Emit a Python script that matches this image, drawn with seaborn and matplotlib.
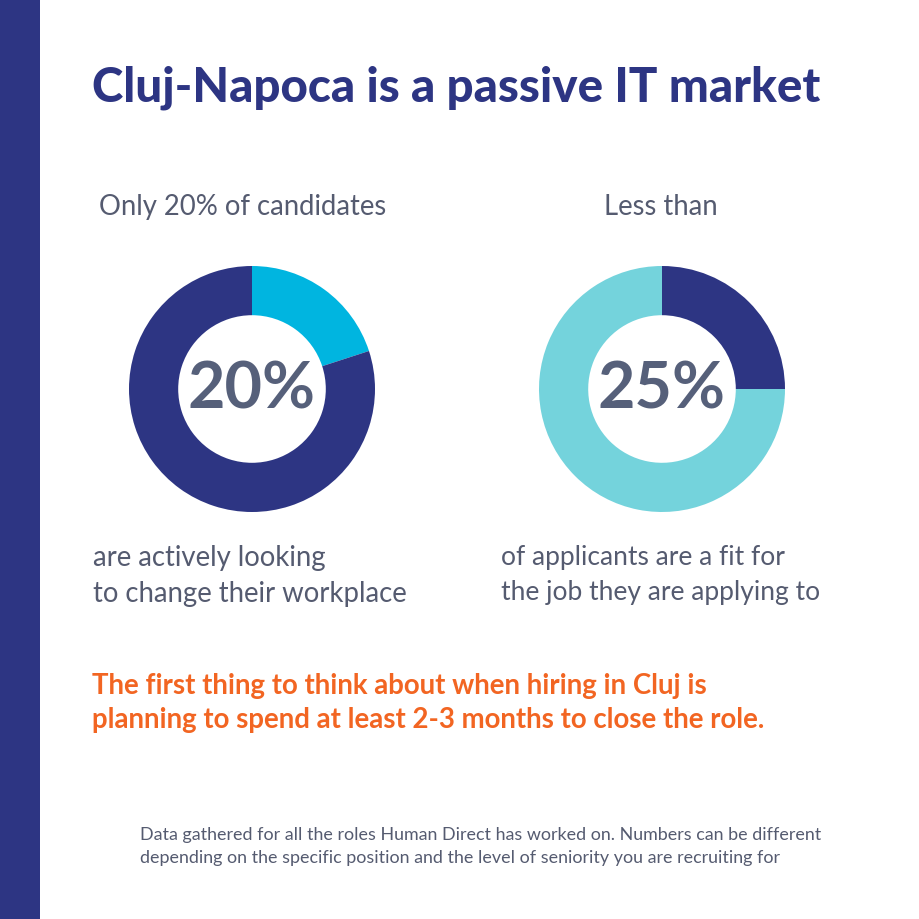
import matplotlib
matplotlib.use("Agg")
import matplotlib.pyplot as plt
import seaborn as sns

# data
title = "Cluj-Napoca is a passive IT market"
left_labels = ["active", "passive"]
left_values = [20, 80]
right_labels = ["fit", "not a fit"]
right_values = [25, 75]
left_top = "Only 20% of candidates"
left_bottom = ["are actively looking", "to change their workplace"]
right_top = "Less than"
right_bottom = ["of applicants are a fit for", "the job they are applying to"]
takeaway = ["The first thing to think about when hiring in Cluj is",
            "planning to spend at least 2-3 months to close the role."]
footnote = ["Data gathered for all the roles Human Direct has worked on. Numbers can be different",
            "depending on the specific position and the level of seniority you are recruiting for"]

NAVY = "#2D3583"
CYAN = "#00B5E0"
TEAL = "#74D3DC"
SLATE = "#56607A"
GREY = "#555B70"
ORANGE = "#F26522"

sns.set_theme(style="white")
plt.rcParams["font.family"] = ["Lato", "DejaVu Sans"]

W = H = 920
fig = plt.figure(figsize=(9.2, 9.2), dpi=100)
fig.patch.set_facecolor("white")

# background axes in pixel coords (y down)
bg = fig.add_axes([0, 0, 1, 1])
bg.set_xlim(0, W)
bg.set_ylim(H, 0)
bg.axis("off")
bg.add_patch(plt.Rectangle((0, 0), 40, H, color=NAVY, lw=0))

bg.text(92, 88, title, fontsize=34.2, fontweight="black", color=NAVY, va="center", ha="left")
bg.text(243, 207, left_top, fontsize=19.8, color=GREY, va="center", ha="center")
bg.text(661, 207, right_top, fontsize=19.8, color=GREY, va="center", ha="center")
for i, line in enumerate(left_bottom):
    bg.text(93, 558 + i * 36, line, fontsize=19.8, color=GREY, va="center", ha="left")
for i, line in enumerate(right_bottom):
    bg.text(501, 558 + i * 35, line, fontsize=19, color=GREY, va="center", ha="left")
for i, line in enumerate(takeaway):
    bg.text(92, 686 + i * 34, line, fontsize=19.9, fontweight="bold", color=ORANGE, va="center", ha="left")
for i, line in enumerate(footnote):
    bg.text(140, 835 + i * 23, line, fontsize=12.9, color=GREY, va="center", ha="left")


def donut(cx, cy, r, values, colors, label):
    ax = fig.add_axes([(cx - r) / W, (H - cy - r) / H, 2 * r / W, 2 * r / H])
    ax.pie(values, colors=colors, startangle=90, counterclock=False,
           wedgeprops=dict(width=0.4, linewidth=0), radius=1)
    ax.set_xlim(-1, 1)
    ax.set_ylim(-1, 1)
    ax.text(0, 0, label, fontsize=46.5, fontweight="bold", color=SLATE, ha="center", va="center")
    ax.axis("off")


donut(252, 390, 123, left_values, [CYAN, NAVY], f"{left_values[0]}%")
donut(662, 390, 123, right_values, [NAVY, TEAL], f"{right_values[0]}%")

fig.savefig("out.png", dpi=100, facecolor="white")
